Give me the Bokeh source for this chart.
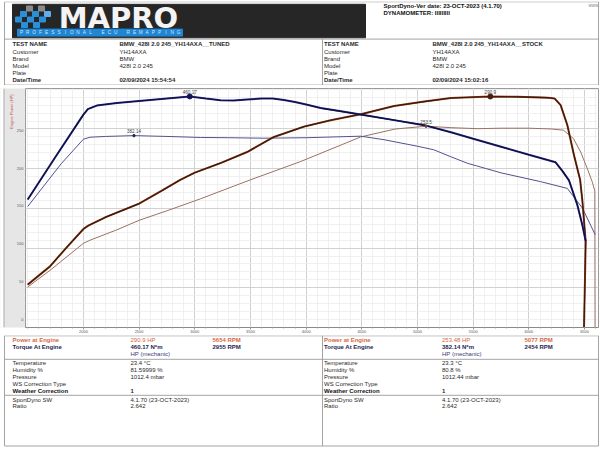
import numpy as np
from bokeh.plotting import figure
from bokeh.layouts import column, row
from bokeh.models import Range1d, FixedTicker
from bokeh.core.properties import value
from bokeh.embed import file_html
from bokeh.resources import INLINE

# ---------------- chart data ----------------
tuned_torque_rpm = [1500, 1750, 2000, 2040, 2120, 2300, 2500, 2750, 2955, 3100, 3230, 3350, 3470, 3600, 3700,
                    3800, 3900, 4000, 4130, 4300, 4490, 4790, 5060, 5300, 5500, 5750, 6000, 6240, 6300, 6360,
                    6435, 6480, 6510]
tuned_torque_nm = [255, 340, 424, 435, 442, 447, 451, 456, 460.17, 456, 452.5, 452, 454, 456, 456,
                   453, 449, 444, 437, 431, 424, 413, 403, 389, 376, 360, 344, 329, 312, 293,
                   244, 204, 172]

tuned_power_rpm = [1500, 1700, 1850, 2000, 2040, 2200, 2500, 2700, 2870, 3000, 3230, 3470, 3710, 3980, 4220,
                   4490, 4790, 5060, 5300, 5654, 5900, 6170, 6230, 6285, 6345, 6405, 6460, 6480, 6510, 6495]
tuned_power_hp = [54, 77, 101, 124, 128, 139, 156, 172, 186, 195, 207, 221, 240, 253, 261,
                  268.5, 279, 284.5, 289, 290.9, 290.5, 289.5, 288.5, 280, 255, 217, 186, 160, 108, 0]

stock_torque_rpm = [1500, 1800, 2000, 2060, 2200, 2454, 2750, 3050, 3300, 3620, 4000, 4490, 4700, 5000, 5145,
                    5300, 5450, 5750, 6105, 6345, 6480, 6595]
stock_torque_nm = [241, 326, 375, 379, 380.5, 382.14, 380.5, 378.5, 378, 377, 378, 381, 374, 361, 354,
                   340, 327, 308, 290.5, 277, 238, 185]

stock_power_rpm = [1500, 1700, 2000, 2060, 2300, 2500, 2750, 3050, 3500, 3950, 4490, 4800, 5077, 5300, 5540,
                   5750, 6000, 6200, 6310, 6400, 6465, 6525, 6570, 6592, 6594]
stock_power_hp = [51, 72, 106, 110, 123, 135, 147, 162, 186, 209, 240, 250, 253.48, 251.7, 250.4,
                  251, 251, 250, 248.5, 238, 221, 200, 183, 172, 0]

x_ticks = [2000, 2500, 3000, 3500, 4000, 4500, 5000, 5500, 6000, 6500]
x_minor = list(range(1500, 6601, 100))
y_ticks = [0, 50, 100, 150, 200, 250]
y_minor = list(range(0, 301, 10))
Y_MAX = 301

tuned_info = ["BMW_428I 2.0 245_YH14AXA__TUNED", "YH14AXA", "BMW", "428I 2.0 245", "", "02/09/2024 15:54:54"]
stock_info = ["BMW_428I 2.0 245_YH14AXA__STOCK", "YH14AXA", "BMW", "428I 2.0 245", "", "02/09/2024 15:02:16"]
info_labels = ["TEST NAME", "Customer", "Brand", "Model", "Plate", "Date/Time"]
weather_labels = ["Temperature", "Humidity %", "Pressure", "WS Correction Type", "Weather Correction"]
tuned_weather = ["23.4 °C", "81.59999 %", "1012.4 mbar", "", "1"]
stock_weather = ["23.3 °C", "80.8 %", "1012.44 mbar", "", "1"]
sw_labels = ["SportDyno SW", "Ratio"]
tuned_sw = ["4.1.70 (23-OCT-2023)", "2.642"]
stock_sw = ["4.1.70 (23-OCT-2023)", "2.642"]

# ---------------- colours / fonts ----------------
FONT = "Liberation Sans"
ORANGE = "#d8673f"
NAVY = "#1f1f52"
NAVY2 = "#3b3b78"
TXT = "#2a2a2a"
BORDER = "#9a9a9a"
BAND = "#e6e6e6"

W = 600
H_HDR, H_CH, H_FTR = 85, 250, 114
BAND_W = 25
TOP_B, BOT_B = 3, 8


def blank(width, height, xr, yr, **kw):
    opts = dict(min_border=0)
    opts.update(kw)
    f = figure(width=width, height=height, x_range=xr, y_range=yr, x_axis_location=None,
               y_axis_location=None, toolbar_location=None, output_backend="svg", **opts)
    f.outline_line_color = None
    f.grid.visible = False
    f.background_fill_color = "white"
    f.border_fill_color = "white"
    return f


def txt(f, x, y, t, size="6px", color=TXT, style="normal", align="left", font=FONT,
        baseline="middle", angle=0.0):
    if t == "":
        return
    f.text(x=[x], y=[y], text=[t], text_font=value(font), text_font_size=value(size),
           text_color=color, text_font_style=value(style), text_align=value(align),
           text_baseline=value(baseline), angle=angle)


def seg(f, x0, y0, x1, y1, color=BORDER, width=0.9):
    f.segment(x0=[x0], y0=[y0], x1=[x1], y1=[y1], line_color=color, line_width=width)


# ---------------- header ----------------
hdr = blank(W, H_HDR, Range1d(0, 600), Range1d(85, 0))
hdr.quad(left=[12], right=[365], top=[3.8], bottom=[37.3], color="#262626")
flag_l = [26, 38, 20, 32, 44, 15, 27, 39, 21, 33]
flag_t = [5.5, 5.5, 11, 11, 11, 16.5, 16.5, 16.5, 22, 22]
flag_c = ["#8a8a8a", "#8a8a8a", "#2b8fd8", "#2b8fd8", "#5fb0ea", "#2b8fd8", "#2b8fd8", "#2b8fd8", "#2b8fd8", "#2b8fd8"]
hdr.quad(left=flag_l, right=[v + 6 for v in flag_l], top=flag_t, bottom=[v + 5 for v in flag_t], color=flag_c)
txt(hdr, 118, 17, "MAPRO", size="29px", color="#f4f4f4", style="bold", align="center", font="DejaVu Sans")
hdr.quad(left=[17], right=[182], top=[28.6], bottom=[35.6], color="#1f86d4")
strap = "PROFESSIONAL ECU REMAPPING"
hdr.text(x=[21 + i * 157 / (len(strap) - 1) for i in range(len(strap))], y=[32.2] * len(strap),
         text=list(strap), text_font=value(FONT), text_font_size=value("4.7px"), text_color="#cfe7ff",
         text_align=value("center"), text_baseline=value("middle"))
txt(hdr, 383, 5, "SportDyno-Ver date: 23-OCT-2023 (4.1.70)", style="bold", color="#111")
txt(hdr, 383, 12, "DYNAMOMETER: IIIIIIIII", style="bold", color="#111")
txt(hdr, 588, 4.5, "www.", size="4.5px", color="#888")

rows_y = [43.7, 51, 58, 65, 72.3, 79.7]
for i, (lab, y) in enumerate(zip(info_labels, rows_y)):
    st = "bold" if i in (0, 5) else "normal"
    txt(hdr, 12, y, lab, style=st)
    txt(hdr, 119, y, tuned_info[i], style=st)
    txt(hdr, 323.5, y, lab, style=st)
    txt(hdr, 432, y, stock_info[i], style=st)

seg(hdr, 4, 1.5, 598, 1.5, color="#c8c8c8")
seg(hdr, 4, 38.6, 598, 38.6)
seg(hdr, 4, 84.6, 598, 84.6)
seg(hdr, 4, 1.5, 4, 85)
seg(hdr, 598, 1.5, 598, 85)
seg(hdr, 322, 38.6, 322, 85)

# ---------------- chart ----------------
p = figure(width=W - BAND_W, height=H_CH, x_range=Range1d(1480, 6625), y_range=Range1d(0, Y_MAX),
           y_axis_location=None, toolbar_location=None, output_backend="svg", min_border_left=0,
           min_border_right=2, min_border_top=TOP_B, min_border_bottom=BOT_B)
p.extra_y_ranges = {"torque": Range1d(0, 476)}
p.background_fill_color = "white"
p.border_fill_color = "white"
p.outline_line_color = BORDER

p.xaxis.ticker = FixedTicker(ticks=x_ticks, minor_ticks=x_minor)
p.xgrid.ticker = FixedTicker(ticks=x_ticks, minor_ticks=x_minor)
p.ygrid.ticker = FixedTicker(ticks=y_ticks, minor_ticks=y_minor)
for g in (p.xgrid, p.ygrid):
    g.grid_line_color = "#c9c9c9"
    g.minor_grid_line_color = "#ececec"
    g.grid_line_width = 0.8
    g.minor_grid_line_width = 0.8
p.xaxis.major_label_text_font = FONT
p.xaxis.major_label_text_font_size = "4px"
p.xaxis.major_label_text_color = "#555"
p.xaxis.axis_line_color = "#8a8a8a"
p.xaxis.major_tick_line_color = "#8a8a8a"
p.xaxis.minor_tick_line_color = "#aaaaaa"
p.xaxis.major_tick_in = 0
p.xaxis.minor_tick_in = 0
p.xaxis.major_tick_out = 2
p.xaxis.minor_tick_out = 1
p.xaxis.major_label_standoff = 0

p.line(stock_power_rpm, stock_power_hp, line_color="#9a7262", line_width=1)
p.line(stock_torque_rpm, stock_torque_nm, line_color="#52528e", line_width=1, y_range_name="torque")
p.line(tuned_power_rpm, tuned_power_hp, line_color="#8a3c1c", line_width=2.0)
p.line(tuned_power_rpm, tuned_power_hp, line_color="#3a170a", line_width=1.1)
p.line(tuned_torque_rpm, tuned_torque_nm, line_color="#2a2a8a", line_width=2.0, y_range_name="torque")
p.line(tuned_torque_rpm, tuned_torque_nm, line_color="#0e0e36", line_width=1.1, y_range_name="torque")

peaks = []
for rpm, vals, rname, col, sz, fmt in [
    (tuned_torque_rpm, tuned_torque_nm, "torque", "#14145a", 5, "{:.2f}"),
    (stock_torque_rpm, stock_torque_nm, "torque", "#2a2a60", 2.5, "{:.2f}"),
    (tuned_power_rpm, tuned_power_hp, "default", "#4a1f0e", 5, "{:.1f}"),
    (stock_power_rpm, stock_power_hp, "default", "#6a4a3a", 2.5, "{:.1f}"),
]:
    i = int(np.argmax(vals))
    peaks.append((rpm[i], vals[i]))
    p.scatter([rpm[i]], [vals[i]], size=sz, color=col, y_range_name=rname)
    p.text(x=[rpm[i]], y=[vals[i]], text=[fmt.format(vals[i])], y_range_name=rname, y_offset=-2.5,
           text_font=value(FONT), text_font_size=value("4.6px"), text_color="#444",
           text_align=value("center"), text_baseline=value("bottom"))

# ---------------- side band with the power scale labels ----------------
# same power scale as the chart frame, extended over the chart's top/bottom borders
units_per_px = Y_MAX / (H_CH - TOP_B - BOT_B)
band_range = Range1d(-BOT_B * units_per_px, Y_MAX + TOP_B * units_per_px)
band = blank(BAND_W, H_CH, Range1d(0, BAND_W), band_range)
band.background_fill_color = BAND
band.quad(left=[0], right=[3.5], bottom=[band_range.start], top=[band_range.end], color="white")
seg(band, 3.5, band_range.start, 3.5, band_range.end)
band.text(x=[23] * len(y_ticks), y=y_ticks, text=[str(v) for v in y_ticks], text_font=value(FONT),
          text_font_size=value("4px"), text_color="#555", text_align=value("right"),
          text_baseline=value("middle"))
txt(band, 11, 297, "Engine Power (HP)", size="4px", color="#c0504d", align="right", angle=np.pi / 2)

# ---------------- footer ----------------
ftr = blank(W, H_FTR, Range1d(0, 600), Range1d(449, 335))
(tt_rpm, tt_val), (st_rpm, st_val), (tp_rpm, tp_val), (sp_rpm, sp_val) = peaks
for lx, vx, rx, p_val, p_rpm, t_val, t_rpm, wv, sv in [
    (12, 130, 212, tp_val, tp_rpm, tt_val, tt_rpm, tuned_weather, tuned_sw),
    (323.5, 441.5, 524, sp_val, sp_rpm, st_val, st_rpm, stock_weather, stock_sw),
]:
    txt(ftr, lx, 339.5, "Power at Engine", color=ORANGE, style="bold")
    txt(ftr, lx, 346.5, "Torque At Engine", color=NAVY, style="bold")
    txt(ftr, vx, 339.5, f"{p_val} HP", color=ORANGE)
    txt(ftr, vx, 346.5, f"{t_val} N*m", color=NAVY, style="bold")
    txt(ftr, vx, 353.5, "HP (mechanic)", color=NAVY2)
    txt(ftr, rx, 339.5, f"{p_rpm} RPM", color=ORANGE, style="bold")
    txt(ftr, rx, 346.5, f"{t_rpm} RPM", color=NAVY, style="bold")
    for j, (lab, y) in enumerate(zip(weather_labels, [362.3, 369.2, 376.1, 383.2, 390.4])):
        st = "bold" if j == 4 else "normal"
        txt(ftr, lx, y, lab, style=st, color="#111" if j == 4 else TXT)
        txt(ftr, vx, y, wv[j], style=st)
    for j, (lab, y) in enumerate(zip(sw_labels, [399, 405.8])):
        txt(ftr, lx, y, lab)
        txt(ftr, vx, y, sv[j])

seg(ftr, 4, 335.3, 598, 335.3)
seg(ftr, 4, 358.8, 598, 358.8)
seg(ftr, 4, 394.8, 598, 394.8)
seg(ftr, 4, 445.5, 598, 445.5)
seg(ftr, 4, 335, 4, 445.5)
seg(ftr, 598, 335, 598, 445.5)
seg(ftr, 322, 335, 322, 445.5)

layout = column(hdr, row(band, p), ftr)
open("out.html", "w").write(file_html(layout, INLINE))
